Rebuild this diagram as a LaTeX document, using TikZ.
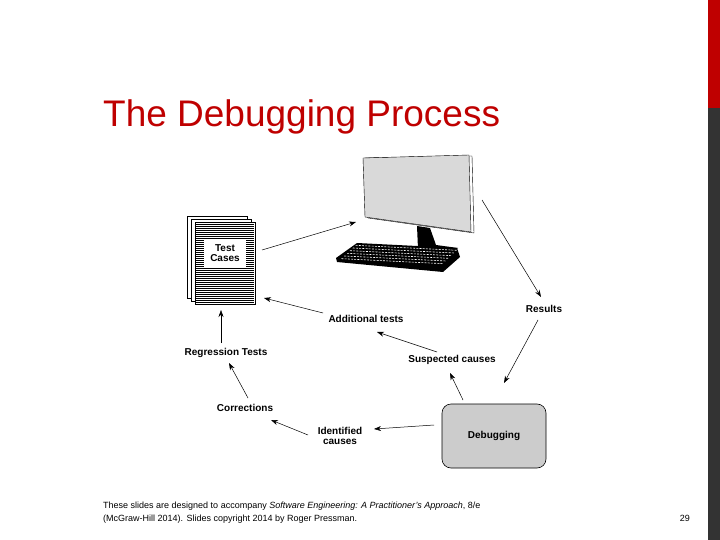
\documentclass[tikz,border=0pt]{standalone}
\usepackage{fontspec}
\setmainfont{Liberation Sans}
\usetikzlibrary{arrows.meta,calc}
\begin{document}
\begin{tikzpicture}[x=1pt,y=-1pt,
 lab/.style={font=\fontsize{10}{10.5}\selectfont\bfseries,align=center,inner sep=1pt},
 arr/.style={-{Stealth[length=7pt,width=5pt]},line width=0.5pt}]
\useasboundingbox (0,0) rectangle (720,540);
\fill[white] (0,0) rectangle (720,540);
\fill[red!75!black] (708,0) rectangle (720,108);
\fill[black!80] (708,108) rectangle (720,540);
\node[anchor=base west,inner sep=0,text=red!75!black,font=\fontsize{37}{40}\selectfont] (title) at (103,127) {The Debugging Process};
% test cases
\draw[fill=white,line width=0.5pt] (187,216) rectangle (247,298);
\draw[fill=white,line width=0.5pt] (191,219) rectangle (251,301);
\draw[fill=white,line width=0.5pt] (195,222) rectangle (255,304);
\foreach \y in {224,226,...,302} \draw[line width=0.7pt] (196,\y) -- (254,\y);
\node[lab,fill=white,minimum width=42pt,minimum height=29pt,font=\fontsize{10}{10.5}\selectfont\bfseries] (tc) at (225,253) {Test\\Cases};
\coordinate (tcR) at (262,250);
% monitor
\fill[black] (417,226) -- (430,228) -- (436,245) -- (458,248) -- (447,256) -- (398,254) -- (418,249) -- cycle;
\draw[fill=white] (366,158) -- (472,156) -- (474,233) -- (368,218) -- cycle;
\draw[fill=black!15] (363,158) -- (469,155) -- (471,232) -- (365,217) -- cycle;
\fill[black] (357,243) -- (457,248) -- (460,257) -- (443,272) -- (337,262) -- (336,258) -- cycle;
\foreach \i in {0,...,5} \draw[white,line width=0.6pt,dash pattern=on 2pt off 1.2pt] ($(357,244)!{(\i+0.5)/6}!(340,260)$) -- ++(102,5);
\node (mon) at (418,200) {};
% debugging
\node[draw,fill=black!20,rounded corners=9pt,minimum width=104pt,minimum height=64pt,line width=0.6pt,lab] (dbg) at (494,436) {Debugging};
% labels
\node[lab] (res) at (544,309) {Results};
\node[lab] (add) at (366,319) {Additional tests};
\node[lab] (sus) at (452,360) {Suspected causes};
\node[lab] (reg) at (226,353) {Regression Tests};
\node[lab] (cor) at (245,408) {Corrections};
\node[lab] (ide) at (340,436) {Identified\\causes};
% arrows
\coordinate (a1) at (356,222);
\draw[arr] (tcR) -- (a1);
\coordinate (m1) at (482,200); \coordinate (r1) at (541,297);
\draw[arr] (m1) -- (r1);
\coordinate (r2) at (538,320); \coordinate (d1) at (504,383);
\draw[arr] (r2) -- (d1);
\coordinate (d2) at (463,400); \coordinate (s1) at (450,373);
\draw[arr] (d2) -- (s1);
\coordinate (s2) at (437,352); \coordinate (ad1) at (377,332);
\draw[arr] (s2) -- (ad1);
\coordinate (ad2) at (323,313); \coordinate (t1) at (264,298);
\draw[arr] (ad2) -- (t1);
\coordinate (d3) at (434,425); \coordinate (i1) at (374,429);
\draw[arr] (d3) -- (i1);
\coordinate (i2) at (308,435); \coordinate (c1) at (271,420);
\draw[arr] (i2) -- (c1);
\coordinate (c2) at (248,398); \coordinate (g1) at (229,363);
\draw[arr] (c2) -- (g1);
\coordinate (g2) at (221,343); \coordinate (t2) at (221,310);
\draw[arr] (g2) -- (t2);
% footer
\node[anchor=base west,inner sep=0,font=\fontsize{9}{10}\selectfont] (f1) at (103,508) {These slides are designed to accompany \textit{Software Engineering: A Practitioner's Approach}, 8/e};
\node[anchor=base west,inner sep=0,font=\fontsize{9}{10}\selectfont] (f2) at (103,521) {(McGraw-Hill 2014). Slides copyright 2014 by Roger Pressman.};
\node[anchor=base east,inner sep=0,font=\fontsize{9}{10}\selectfont] (pg) at (690,521) {29};
\end{tikzpicture}
\end{document}
